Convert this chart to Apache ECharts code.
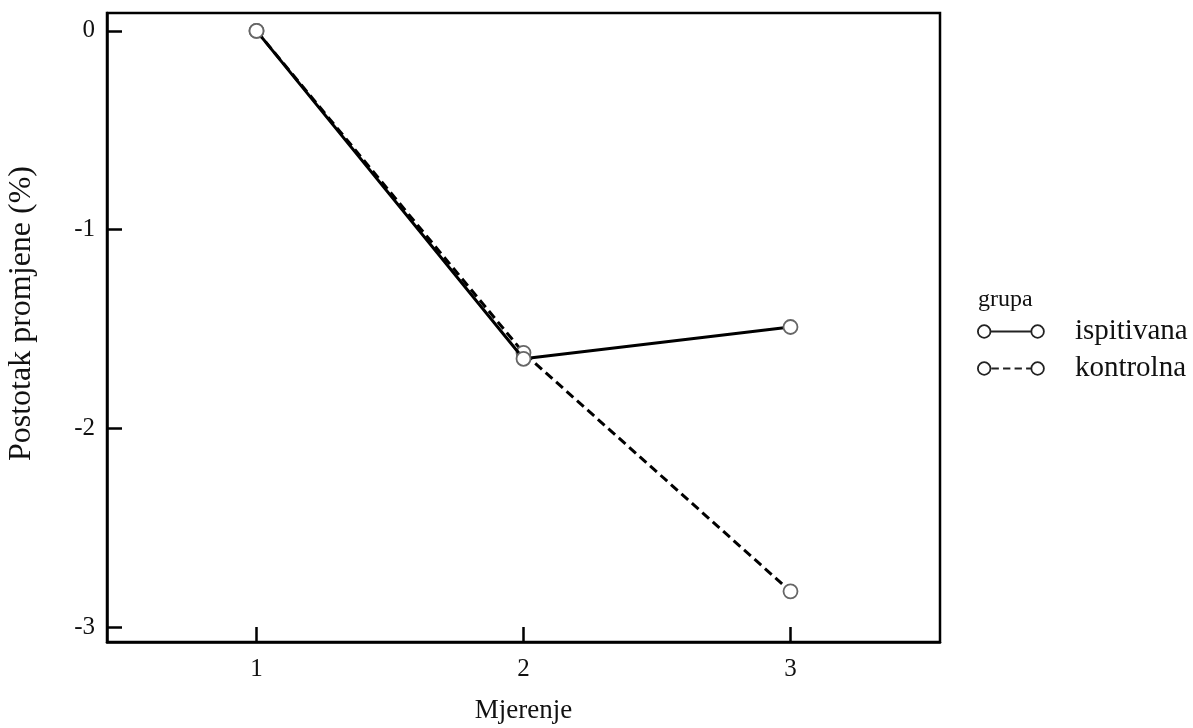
<!DOCTYPE html>
<html>
<head>
<meta charset="utf-8">
<script src="https://cdn.jsdelivr.net/npm/echarts@6/dist/echarts.min.js"></script>
<style>html,body{margin:0;padding:0;background:#fff}#c{width:1193px;height:728px}</style>
</head>
<body>
<div id="c"></div>
<script>
const categories = [1, 2, 3];
const ispitivana = [0, -1.65, -1.49];
const kontrolna = [0, -1.62, -2.82];
const yTicks = [-3, -2, -1, 0];
const seriesNames = ['ispitivana', 'kontrolna'];

const font = 'Liberation Serif';
const chart = echarts.init(document.getElementById('c'));
const solidIcon = 'path://M1,7 A6,6 0 1,0 13,7 A6,6 0 1,0 1,7 Z M13,7 L52,7 M52,7 A6,6 0 1,0 64,7 A6,6 0 1,0 52,7 Z';
const dashIcon = 'path://M1,7 A6,6 0 1,0 13,7 A6,6 0 1,0 1,7 Z M14,7 L21,7 M25,7 L32,7 M36,7 L43,7 M47,7 L52,7 M52,7 A6,6 0 1,0 64,7 A6,6 0 1,0 52,7 Z';

function pts(vals) { return categories.map((c, i) => [c, vals[i]]); }

chart.setOption({
  animation: false,
  backgroundColor: '#fff',
  title: [{
    text: 'grupa', left: 973, top: 283,
    textStyle: { fontFamily: font, fontSize: 24, fontWeight: 'normal', color: '#111' }
  }],
  legend: {
    left: 972, top: 312, orient: 'vertical',
    itemWidth: 66, itemHeight: 13, itemGap: 8,
    data: [
      { name: seriesNames[0], icon: solidIcon },
      { name: seriesNames[1], icon: dashIcon }
    ],
    itemStyle: { color: '#fff', borderColor: '#222', borderWidth: 1.8 },
    textStyle: { fontFamily: font, fontSize: 29, color: '#111', padding: [0, 0, 0, 26] }
  },
  grid: {
    left: 107, top: 13, right: 253, bottom: 86,
    outerBoundsMode: 'none', containLabel: false,
    show: true, borderColor: '#000', borderWidth: 2.5, backgroundColor: 'transparent'
  },
  xAxis: {
    type: 'value', min: 0.44, max: 3.56,
    name: 'Mjerenje', nameLocation: 'middle', nameGap: 55,
    nameTextStyle: { fontFamily: font, fontSize: 27, color: '#111' },
    axisLine: { show: true, onZero: false, lineStyle: { color: '#000', width: 2.5 } },
    axisTick: { show: true, inside: true, length: 15, customValues: categories, lineStyle: { color: '#000', width: 2.5 } },
    axisLabel: { customValues: categories, fontFamily: font, fontSize: 25, color: '#111', margin: 15 },
    splitLine: { show: false }
  },
  yAxis: {
    type: 'value', min: -3.075, max: 0.09,
    name: 'Postotak promjene (%)', nameLocation: 'middle', nameGap: 69,
    nameTextStyle: { fontFamily: font, fontSize: 32, color: '#111', padding: [0, 0, 0, 28] },
    axisLine: { show: true, onZero: false, lineStyle: { color: '#000', width: 2.5 } },
    axisTick: { show: true, inside: true, length: 15, customValues: yTicks, lineStyle: { color: '#000', width: 2.5 } },
    axisLabel: { customValues: yTicks, fontFamily: font, fontSize: 25, color: '#111', margin: 12 },
    splitLine: { show: false }
  },
  series: [
    {
      name: seriesNames[0], type: 'line', data: pts(ispitivana),
      symbol: 'circle', symbolSize: 14, z: 3,
      lineStyle: { color: '#000', width: 3, type: 'solid' },
      itemStyle: { color: '#fff', borderColor: '#666', borderWidth: 1.8 }
    },
    {
      name: seriesNames[1], type: 'line', data: pts(kontrolna),
      symbol: 'circle', symbolSize: 14, z: 2,
      lineStyle: { color: '#000', width: 3, type: [9, 5] },
      itemStyle: { color: '#fff', borderColor: '#666', borderWidth: 1.8 }
    }
  ]
});
</script>
</body>
</html>
